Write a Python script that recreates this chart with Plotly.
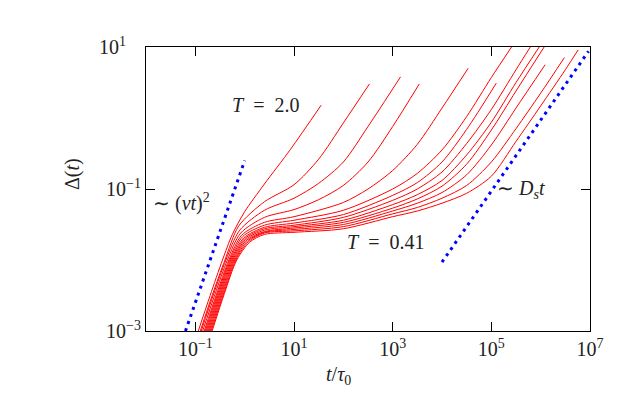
import numpy as np
import plotly.graph_objects as go

# mean square displacement curves as log10 values
# (lt = log10(t/tau0), ld = log10(Delta)), from T=2.0 (first) to T=0.41 (last)
lt_1 = [-0.94, -0.70, -0.45, -0.25, 0.00, 0.40, 0.93, 1.55]
ld_1 = [-3.00, -2.50, -2.00, -1.64, -1.32, -0.93, -0.44, 0.18]

lt_2 = [-0.90, -0.65, -0.40, -0.12, 0.40, 1.00, 1.50, 2.00, 2.53]
ld_2 = [-3.00, -2.48, -2.00, -1.52, -1.18, -0.94, -0.58, -0.07, 0.48]

lt_3 = [-0.88, -0.63, -0.38, -0.10, 0.40, 1.00, 1.50, 2.00, 2.50, 3.16]
ld_3 = [-3.00, -2.48, -2.00, -1.58, -1.30, -1.13, -0.92, -0.62, -0.12, 0.58]

lt_4 = [-0.85, -0.60, -0.35, -0.08, 0.40, 1.00, 1.50, 2.00, 2.50, 3.00, 3.54]
ld_4 = [-3.00, -2.48, -2.00, -1.62, -1.40, -1.29, -1.15, -0.95, -0.62, -0.12, 0.48]

lt_5 = [-0.82, -0.57, -0.32, -0.06, 0.40, 1.00, 2.00, 2.50, 3.00, 3.50, 4.00, 4.53]
ld_5 = [-3.00, -2.48, -2.00, -1.65, -1.47, -1.39, -1.19, -1.00, -0.74, -0.37, 0.14, 0.70]

lt_6 = [-0.80, -0.55, -0.30, -0.04, 0.40, 1.00, 2.00, 3.00, 3.50, 4.00, 4.50, 5.00, 5.41]
ld_6 = [-3.00, -2.48, -2.00, -1.67, -1.51, -1.44, -1.30, -1.00, -0.78, -0.45, 0.02, 0.57, 1.00]

lt_7 = [-0.78, -0.53, -0.28, -0.02, 0.40, 1.00, 2.00, 3.00, 3.50, 4.00, 4.50, 5.10]
ld_7 = [-3.00, -2.48, -2.00, -1.69, -1.54, -1.48, -1.36, -1.09, -0.91, -0.62, -0.16, 0.49]

lt_8 = [-0.76, -0.51, -0.26, 0.00, 0.40, 1.00, 2.00, 3.00, 3.50, 4.00, 4.50, 5.00, 5.50, 5.79]
ld_8 = [-3.00, -2.48, -2.00, -1.70, -1.56, -1.51, -1.40, -1.16, -1.00, -0.76, -0.36, 0.12, 0.68, 1.00]

lt_9 = [-0.74, -0.49, -0.24, 0.02, 0.40, 1.00, 2.00, 3.00, 3.50, 4.00, 4.50, 5.00, 5.50, 5.97]
ld_9 = [-3.00, -2.48, -2.00, -1.71, -1.58, -1.53, -1.44, -1.22, -1.08, -0.88, -0.52, -0.06, 0.50, 1.00]

lt_10 = [-0.72, -0.47, -0.22, 0.04, 0.40, 1.00, 2.00, 3.00, 3.50, 4.00, 4.50, 5.00, 5.50, 6.07]
ld_10 = [-3.00, -2.48, -2.00, -1.72, -1.60, -1.55, -1.47, -1.27, -1.14, -0.96, -0.65, -0.17, 0.38, 1.00]

lt_11 = [-0.70, -0.45, -0.20, 0.06, 0.40, 1.00, 2.00, 3.00, 3.50, 4.00, 4.50, 5.00, 5.50, 6.09]
ld_11 = [-3.00, -2.48, -2.00, -1.73, -1.61, -1.57, -1.50, -1.31, -1.20, -1.05, -0.80, -0.38, 0.14, 0.75]

lt_12 = [-0.68, -0.43, -0.18, 0.08, 0.40, 1.00, 2.00, 3.00, 3.50, 4.00, 4.50, 5.00, 5.50, 6.00, 6.48]
ld_12 = [-3.00, -2.48, -2.00, -1.74, -1.62, -1.59, -1.53, -1.35, -1.26, -1.13, -0.95, -0.62, -0.15, 0.35, 0.85]

lt_13 = [-0.66, -0.41, -0.16, 0.10, 0.40, 1.00, 2.00, 3.00, 3.50, 4.00, 4.50, 5.00, 5.50, 6.00, 6.50, 6.76]
ld_13 = [-3.00, -2.47, -2.00, -1.75, -1.64, -1.61, -1.56, -1.39, -1.31, -1.20, -1.06, -0.82, -0.33, 0.17, 0.68, 0.96]

# guide lines: ballistic ~(vt)^2 and diffusive ~D_s t
lt_ball = [-1.20, 0.00]
ld_ball = [-3.00, -0.60]
lt_diff = [4.00, 6.97]
ld_diff = [-2.03, 0.94]

x_tickvals = [1e-1, 1e1, 1e3, 1e5, 1e7]
x_ticktext = ["10<sup>\u22121</sup>", "10<sup>1</sup>", "10<sup>3</sup>", "10<sup>5</sup>", "10<sup>7</sup>"]
y_tickvals = [1e-3, 1e-1, 1e1]
y_ticktext = ["10<sup>\u22123</sup>", "10<sup>\u22121</sup>", "10<sup>1</sup>&nbsp;&nbsp;&nbsp;"]

curves = [(lt_1, ld_1), (lt_2, ld_2), (lt_3, ld_3), (lt_4, ld_4), (lt_5, ld_5),
          (lt_6, ld_6), (lt_7, ld_7), (lt_8, ld_8), (lt_9, ld_9), (lt_10, ld_10),
          (lt_11, ld_11), (lt_12, ld_12), (lt_13, ld_13)]

font = "Liberation Serif"

fig = go.Figure()
for lt, ld in curves:
    fig.add_trace(go.Scatter(x=10**np.array(lt), y=10**np.array(ld), mode='lines',
                             line=dict(color='#ff0000', width=1, shape='spline', smoothing=0.8),
                             showlegend=False, hoverinfo='skip'))

for lt, ld in [(lt_ball, ld_ball), (lt_diff, ld_diff)]:
    fig.add_trace(go.Scatter(x=10**np.array(lt), y=10**np.array(ld), mode='lines',
                             line=dict(color='#0000ff', width=3, dash='3px,4.5px'),
                             showlegend=False, hoverinfo='skip'))

ann = dict(xref='paper', yref='paper', showarrow=False, xanchor='center', yanchor='middle',
           font=dict(family=font, size=20, color='#222'))
fig.add_annotation(x=0.270, y=0.796, text="<i>T</i>&nbsp;&nbsp;=&nbsp;&nbsp;2.0", **ann)
fig.add_annotation(x=0.080, y=0.451, text="\u223c&nbsp;(<i>vt</i>)<sup>2</sup>", **ann)
fig.add_annotation(x=0.539, y=0.315, text="<i>T</i>&nbsp;&nbsp;=&nbsp;&nbsp;0.41", **ann)
fig.add_annotation(x=0.845, y=0.500, text="\u223c&nbsp;<i>D<sub>s</sub>t</i>", **ann)
# axis titles
fig.add_annotation(x=(338 - 146) / 444, y=(331 - 375) / 284, text="<i>t</i>/<i>\u03c4</i><sub>0</sub>", **ann)
fig.add_annotation(x=(72 - 146) / 444, y=(331 - 174) / 284, text="\u0394(<i>t</i>)", textangle=-90, **ann)

# page body adds an 8px offset, so margins are shifted to keep the frame in place
fig.update_layout(width=623, height=398, margin=dict(l=138, r=41, t=39, b=75),
                  plot_bgcolor='white', paper_bgcolor='white',
                  font=dict(family=font, size=20, color='#222'))
fig.update_xaxes(type='log', range=[-2, 7], tickvals=x_tickvals, ticktext=x_ticktext,
                 ticks='inside', ticklen=9, tickcolor='black', showline=True, linecolor='black',
                 linewidth=1, mirror='ticks', showgrid=False, zeroline=False)
fig.update_yaxes(type='log', range=[-3, 1], tickvals=y_tickvals, ticktext=y_ticktext,
                 ticks='inside', ticklen=9, tickcolor='black', showline=True, linecolor='black',
                 linewidth=1, mirror='ticks', showgrid=False, zeroline=False)

fig.write_html("out.html")
